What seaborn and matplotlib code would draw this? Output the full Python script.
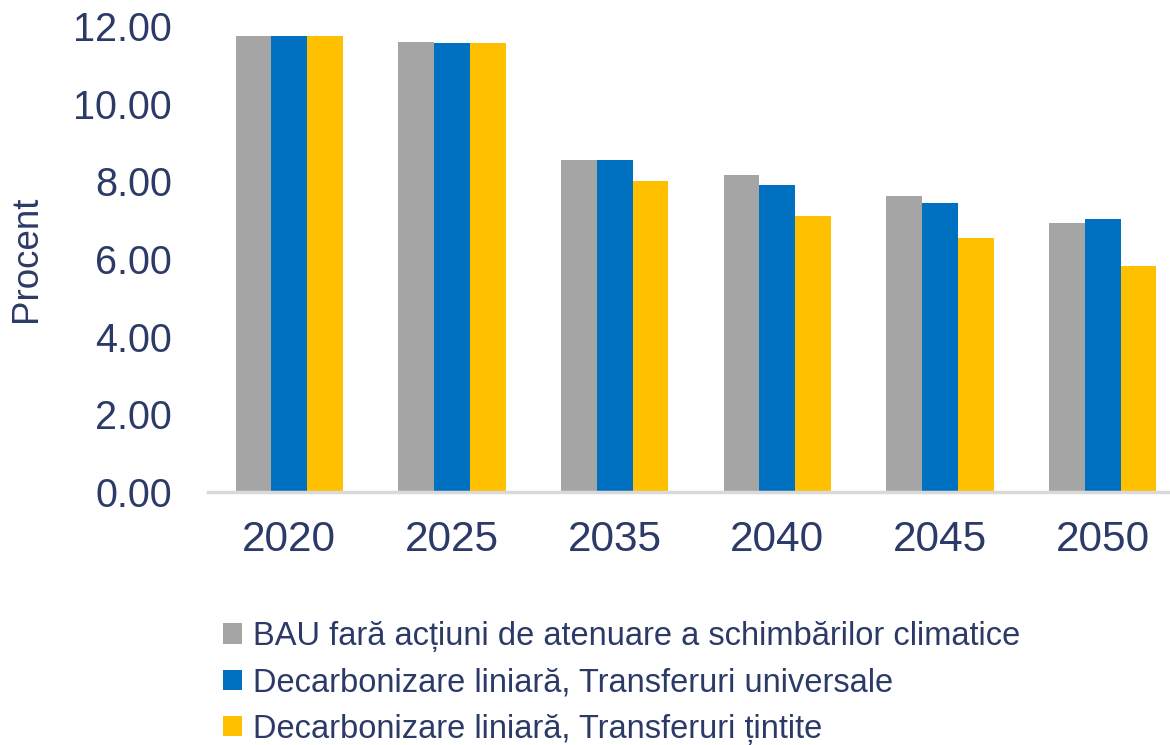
import pandas as pd
import matplotlib
matplotlib.use('Agg')
import matplotlib.pyplot as plt
import seaborn as sns

years = ['2020', '2025', '2035', '2040', '2045', '2050']
series = ['BAU fară acțiuni de atenuare a schimbărilor climatice',
          'Decarbonizare liniară, Transferuri universale',
          'Decarbonizare liniară, Transferuri țintite']
bau = [11.73, 11.60, 8.54, 8.16, 7.63, 6.92]
universal = [11.73, 11.55, 8.54, 7.90, 7.45, 7.04]
tintite = [11.73, 11.55, 8.02, 7.11, 6.53, 5.81]
colors = ['#A5A5A5', '#0070C0', '#FFC000']

rows = []
for name, vals in zip(series, [bau, universal, tintite]):
    for y, v in zip(years, vals):
        rows.append({'An': y, 'Scenariu': name, 'Procent': v})
df = pd.DataFrame(rows)

sns.set_style('white')
plt.rcParams['font.family'] = ['Liberation Sans', 'DejaVu Sans']
navy = '#2B3A67'

fig = plt.figure(figsize=(11.7, 7.45), dpi=100)
ax = fig.add_axes([208 / 1170, 253 / 745, 976 / 1170, 466 / 745])

sns.barplot(data=df, x='An', y='Procent', hue='Scenariu', palette=colors,
            width=0.658, gap=0, saturation=1, linewidth=0, ax=ax, legend=True)

ax.set_xlim(-0.5, 5.5)
ax.set_ylim(0, 12)
ax.set_yticks([0, 2, 4, 6, 8, 10, 12])
ax.set_yticklabels([f'{v:.2f}' for v in [0, 2, 4, 6, 8, 10, 12]])
ax.tick_params(axis='y', labelsize=28.5, labelcolor=navy, length=0, pad=26)
ax.tick_params(axis='x', labelsize=30.5, labelcolor=navy, length=0, pad=20)
ax.set_xlabel('')
ax.set_ylabel('Procent', fontsize=26.5, color=navy, labelpad=21)

for s in ['top', 'right', 'left']:
    ax.spines[s].set_visible(False)
ax.spines['bottom'].set_color('#D9D9D9')
ax.spines['bottom'].set_linewidth(2.5)

handles, labels = ax.get_legend_handles_labels()
ax.get_legend().remove()
fig.legend(handles, labels, loc='upper left', bbox_to_anchor=(223 / 1170, 1 - 621 / 745),
           frameon=False, fontsize=23.5, labelcolor=navy, handlelength=0.58, handleheight=0.58,
           handletextpad=0.34, labelspacing=0.47, borderpad=0, borderaxespad=0)

fig.savefig('out.png', dpi=100)
